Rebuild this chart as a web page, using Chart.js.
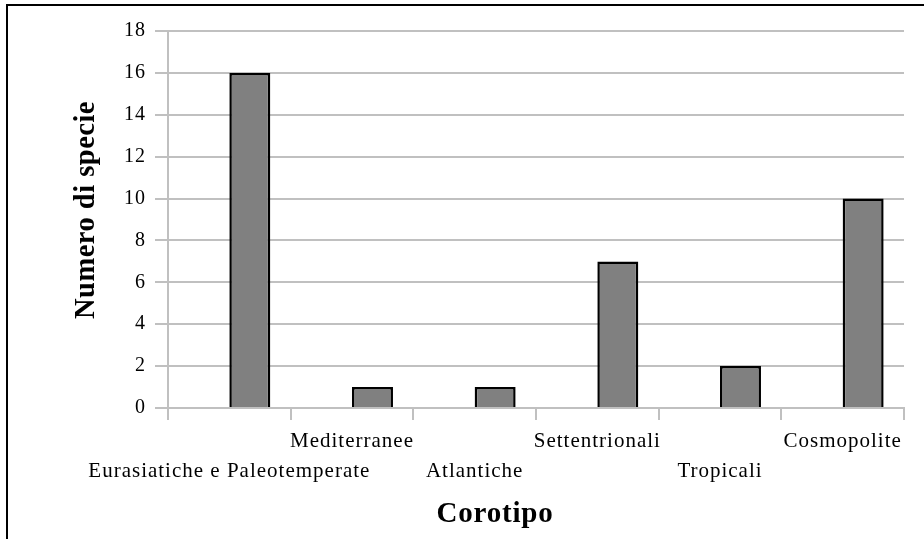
<!DOCTYPE html>
<html>
<head>
<meta charset="utf-8">
<script src="https://cdn.jsdelivr.net/npm/chart.js@4.4.1/dist/chart.umd.min.js"></script>
<style>
  html, body { margin: 0; padding: 0; background: #fff; }
  #wrap { position: absolute; left: 0; top: 0; width: 924px; height: 539px; }
</style>
</head>
<body>
<div id="wrap"><canvas id="c" width="924" height="539"></canvas></div>
<script>
const categories = ['Eurasiatiche e Paleotemperate', 'Mediterranee', 'Atlantiche', 'Settentrionali', 'Tropicali', 'Cosmopolite'];
const emptySeries = [];
const speciesCounts = [16, 1, 1, 7, 2, 10];
const yMin = 0, yMax = 18, yStep = 2;
const xTitle = 'Corotipo';
const yTitle = 'Numero di specie';

const FONT = "'Liberation Serif', 'Times New Roman', serif";
const staggered = categories.map((c, i) => i % 2 === 0 ? ['', c] : [c, '']);

const frame = {
  id: 'frame',
  beforeDraw(chart) {
    chart.ctx.letterSpacing = '1px';
  },
  afterDraw(chart) {
    const ctx = chart.ctx;
    ctx.save();
    ctx.fillStyle = '#000';
    ctx.fillRect(6, 4, 918, 2);
    ctx.fillRect(6, 4, 2, 535);
    // axis titles
    ctx.letterSpacing = '0.8px';
    ctx.font = "bold 29px " + FONT;
    ctx.textAlign = 'center';
    ctx.textBaseline = 'alphabetic';
    ctx.fillText(xTitle, 495, 522);
    ctx.letterSpacing = '0.5px';
    ctx.translate(93.5, 210);
    ctx.rotate(-Math.PI / 2);
    ctx.font = "bold 28.5px " + FONT;
    ctx.fillText(yTitle, 0, 0);
    ctx.restore();
  }
};

new Chart(document.getElementById('c'), {
  type: 'bar',
  data: {
    labels: staggered,
    datasets: [{
      data: emptySeries,
      backgroundColor: '#808080',
      borderColor: '#000',
      borderWidth: 2.5
    }, {
      data: speciesCounts,
      backgroundColor: '#808080',
      borderColor: '#000',
      borderWidth: 2.5
    }]
  },
  options: {
    responsive: false,
    animation: false,
    datasets: { bar: { barPercentage: 1, categoryPercentage: 0.668 } },
    layout: { padding: { top: 31, right: 20, left: 0, bottom: 0 } },
    plugins: { legend: { display: false }, tooltip: { enabled: false }, title: { display: false } },
    scales: {
      x: {
        offset: true,
        grid: {
          offset: true,
          drawOnChartArea: true,
          color: (ctx) => ctx.index === categories.length ? '#c0c0c0' : 'rgba(0,0,0,0)',
          tickColor: '#c0c0c0',
          tickLength: 12,
          lineWidth: 2
        },
        border: { display: true, color: '#c0c0c0', width: 2 },
        ticks: {
          autoSkip: false,
          maxRotation: 0,
          minRotation: 0,
          padding: 7,
          color: '#000',
          font: { family: FONT, size: 21, lineHeight: 1.405 }
        },
        afterFit(scale) { scale.height = 131; }
      },
      y: {
        min: yMin, max: yMax,
        ticks: {
          stepSize: yStep,
          padding: 9,
          color: '#000',
          font: { family: FONT, size: 20 }
        },
        grid: { color: '#c0c0c0', lineWidth: 2, tickLength: 13, tickColor: '#c0c0c0' },
        border: { display: true, color: '#c0c0c0', width: 2 },
        afterFit(scale) { scale.width = 168; }
      }
    }
  },
  plugins: [frame]
});
</script>
</body>
</html>
